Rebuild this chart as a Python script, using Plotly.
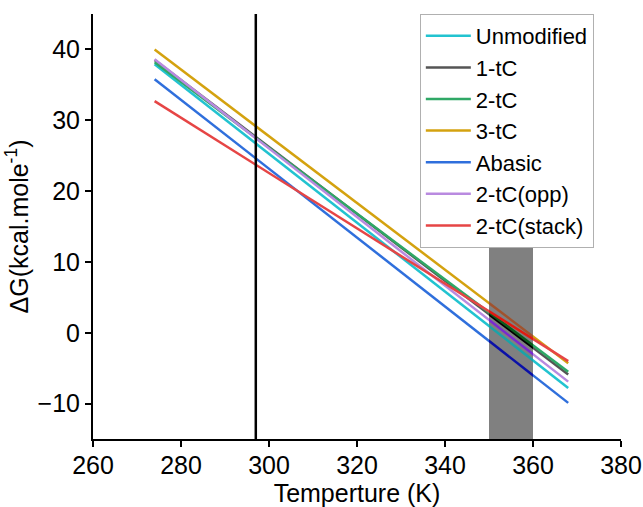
import plotly.graph_objects as go

# Data
series_names = ["Unmodified", "1-tC", "2-tC", "3-tC", "Abasic", "2-tC(opp)", "2-tC(stack)"]
temps = [274, 368]
dg_274 = [37.9, 38.5, 38.2, 40.0, 35.8, 38.6, 32.7]
dg_368 = [-7.8, -5.9, -5.5, -4.3, -9.9, -6.9, -4.0]
vline_T = 297
band_T = [350, 360]
band_top = 13.2

colors = ["#22c3d0", "#555555", "#2fa866", "#d4a20f", "#2f6fdc", "#b98ae0", "#e64545"]
dark_colors = ["#1aa3a8", "#000000", "#0b5a1c", "#a0522d", "#0a10a8", "#7a2ad0", "#e01a10"]

FONT = "Liberation Sans, Arial, sans-serif"

fig = go.Figure()
for name, a, b, c in zip(series_names, dg_274, dg_368, colors):
    fig.add_trace(go.Scatter(x=temps, y=[a, b], mode="lines", name=name,
                             line=dict(color=c, width=2.5)))
# darker rendering of the same lines inside the shaded band (clipped by x2 subplot)
for name, a, b, c in zip(series_names, dg_274, dg_368, dark_colors):
    fig.add_trace(go.Scatter(x=temps, y=[a, b], mode="lines", name=name, showlegend=False,
                             xaxis="x2", yaxis="y", line=dict(color=c, width=2.5),
                             hoverinfo="skip"))

xr = [260, 380]
d0 = (band_T[0] - xr[0]) / (xr[1] - xr[0])
d1 = (band_T[1] - xr[0]) / (xr[1] - xr[0])

fig.add_shape(type="rect", xref="x2", yref="y", x0=band_T[0], x1=band_T[1], y0=-15, y1=band_top,
              fillcolor="#808080", line=dict(width=0), layer="below")
fig.add_shape(type="line", xref="x", yref="paper", x0=vline_T, x1=vline_T, y0=0, y1=1,
              line=dict(color="black", width=2.5), layer="above")

fig.update_layout(
    width=643, height=507,
    margin=dict(l=93, r=22, t=14, b=68),
    plot_bgcolor="white", paper_bgcolor="white",
    font=dict(family=FONT, size=25, color="black"),
    showlegend=True,
    legend=dict(x=0.619, y=1.0, xanchor="left", yanchor="top", bgcolor="white",
                bordercolor="#b0b0b0", borderwidth=1, font=dict(size=22), tracegroupgap=0,
                itemwidth=45),
    xaxis=dict(range=xr, dtick=20, showline=True, linecolor="black", linewidth=2,
               ticks="outside", ticklen=6, tickwidth=2, tickcolor="black",
               showgrid=False, zeroline=False, automargin=False, ticklabelstandoff=-3,
               title=dict(text="Temperture (K)", font=dict(size=25), standoff=2)),
    xaxis2=dict(range=band_T, domain=[d0, d1], anchor="y", visible=False,
                showgrid=False, zeroline=False, automargin=False),
    yaxis=dict(range=[-15, 45], dtick=10, showline=True, linecolor="black", linewidth=2,
               ticks="outside", ticklen=6, tickwidth=2, tickcolor="black",
               showgrid=False, zeroline=False, automargin=False,
               title=dict(text="ΔG(kcal.mole<sup>-1</sup>)", font=dict(size=25), standoff=2)),
)

fig.write_html("out.html", post_script="document.body.style.margin='0';",
               config={"displayModeBar": False})
